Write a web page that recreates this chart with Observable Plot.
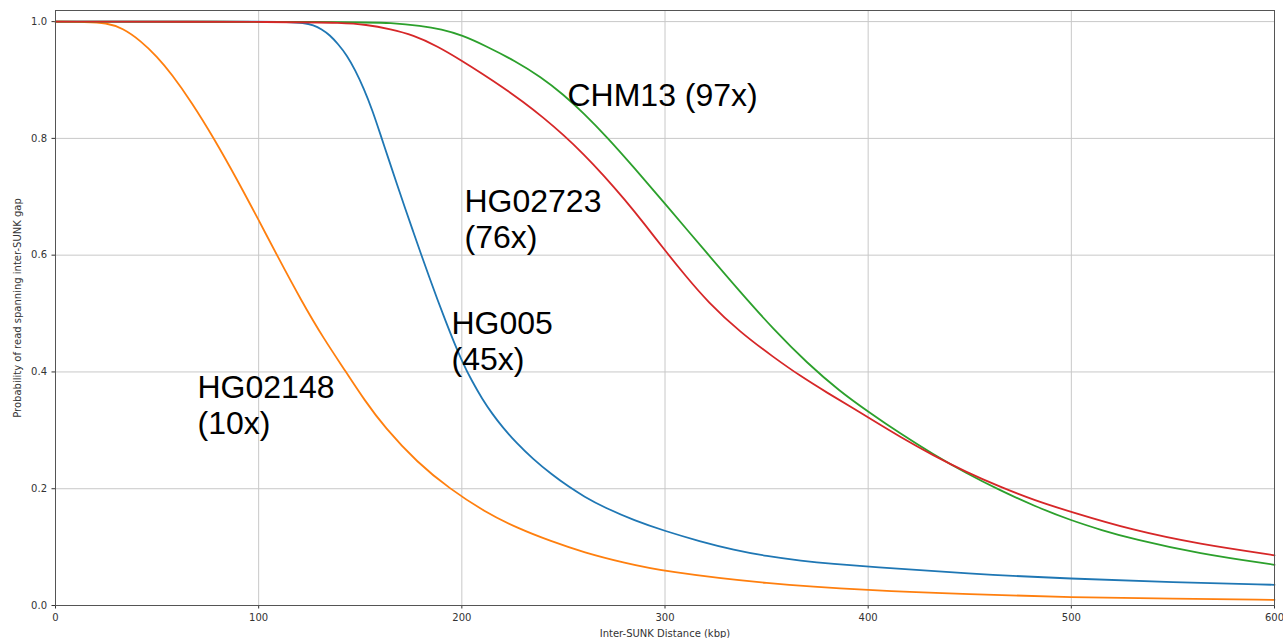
<!DOCTYPE html>
<html>
<head>
<meta charset="utf-8">
<script src="https://cdn.jsdelivr.net/npm/d3@7"></script>
<script src="https://cdn.jsdelivr.net/npm/@observablehq/plot@0.6"></script>
<style>
  html, body { margin: 0; padding: 0; background: #fff; }
  #chart svg { display: block; }
</style>
</head>
<body>
<div id="chart"></div>
<script>
// Series names and colours
const seriesNames = ["HG005", "HG02148", "CHM13", "HG02723"];
const seriesColors = ["#1f77b4", "#ff7f0e", "#2ca02c", "#d62728"];

// Values (distance in kbp, probability)
const hg005X = [0, 100, 115, 122, 127, 131, 135, 139, 143.5, 147.5, 151.7, 156, 160, 164, 168, 172, 176, 180, 184, 188, 192, 196, 200, 205, 210, 215, 220, 227, 235, 244, 253, 260, 270, 285, 300, 317, 334, 350, 367, 383, 400, 449, 500, 550, 600];
const hg005Y = [1.0, 1.0, 0.9995, 0.998, 0.994, 0.987, 0.977, 0.962, 0.942, 0.917, 0.886, 0.848, 0.806, 0.764, 0.722, 0.681, 0.641, 0.601, 0.562, 0.524, 0.487, 0.452, 0.419, 0.384, 0.354, 0.328, 0.3055, 0.278, 0.251, 0.225, 0.2024, 0.187, 0.168, 0.1455, 0.1275, 0.110, 0.095, 0.0845, 0.0765, 0.071, 0.0665, 0.0545, 0.0457, 0.040, 0.0354];

const hg02148X = [0, 15, 25, 33, 42, 50, 57, 67, 78, 89, 100, 109, 121, 132, 143, 152, 162, 178, 194, 211, 227, 244, 260, 280, 300, 350, 400, 450, 500, 550, 600];
const hg02148Y = [1.0, 0.9995, 0.998, 0.989, 0.967, 0.940, 0.911, 0.862, 0.80, 0.732, 0.66, 0.60, 0.522, 0.457, 0.40, 0.352, 0.305, 0.245, 0.20, 0.161, 0.133, 0.110, 0.091, 0.073, 0.058, 0.037, 0.026, 0.019, 0.014, 0.0115, 0.0097];

const chm13X = [0, 150, 165, 180, 190, 200, 212, 226, 239, 250, 260, 271.5, 285, 300, 321, 337, 353.5, 370, 386, 400, 416, 432, 448, 465, 482, 500, 515, 530, 563, 600];
const chm13Y = [1.0, 0.9995, 0.998, 0.993, 0.987, 0.977, 0.958, 0.933, 0.905, 0.875, 0.843, 0.802, 0.749, 0.688, 0.602, 0.537, 0.4726, 0.415, 0.367, 0.332, 0.294, 0.259, 0.227, 0.197, 0.17, 0.1455, 0.129, 0.114, 0.0885, 0.0697];

const hg02723X = [0, 120, 140, 153, 165, 176, 188, 200, 210, 220, 230, 240, 250, 260, 270, 280, 290, 300, 310, 321, 337, 353.5, 367, 380, 393, 400, 416, 432, 448, 465, 482, 500, 530, 563, 600];
const hg02723Y = [1.0, 0.9995, 0.998, 0.995, 0.987, 0.977, 0.958, 0.933, 0.911, 0.888, 0.863, 0.836, 0.806, 0.773, 0.736, 0.696, 0.653, 0.608, 0.565, 0.52, 0.468, 0.425, 0.392, 0.364, 0.337, 0.322, 0.288, 0.257, 0.229, 0.203, 0.18, 0.16, 0.129, 0.105, 0.086];

// Tick labels
const xTicks = [0, 100, 200, 300, 400, 500, 600];
const yTicks = [0.0, 0.2, 0.4, 0.6, 0.8, 1.0];

// Annotation labels (anchored at data coordinates)
const labelText = ["CHM13 (97x)", "HG02723\n(76x)", "HG005\n(45x)", "HG02148\n(10x)"];
const labelX = [252, 201.3, 194.9, 69.9];
const labelY = [0.899, 0.7175, 0.5086, 0.399];

// Build table
const seriesX = [hg005X, hg02148X, chm13X, hg02723X];
const seriesY = [hg005Y, hg02148Y, chm13Y, hg02723Y];
const rows = [];
seriesNames.forEach((name, i) => {
  seriesX[i].forEach((x, j) => rows.push({sample: name, x, y: seriesY[i][j]}));
});
const labels = labelText.map((t, i) => ({t, x: labelX[i], y: labelY[i]}));

const chart = Plot.plot({
  width: 1283,
  height: 638,
  marginLeft: 55,
  marginRight: 9,
  marginTop: 10,
  marginBottom: 33,
  style: {background: "#fff", fontFamily: "DejaVu Sans", color: "#333"},
  x: {domain: [0, 600], ticks: xTicks},
  y: {domain: [0, 1.019], ticks: yTicks},
  color: {domain: seriesNames, range: seriesColors},
  marks: [
    Plot.gridX(xTicks, {stroke: "#c8c8c8", strokeOpacity: 1, strokeWidth: 1}),
    Plot.gridY(yTicks, {stroke: "#c8c8c8", strokeOpacity: 1, strokeWidth: 1}),
    Plot.axisX(xTicks, {
      tickSize: 3.5, tickPadding: 4.5, fontSize: 10, fill: "#333", stroke: "#333",
      label: "Inter-SUNK Distance (kbp)", labelAnchor: "center", labelArrow: "none", labelOffset: 31
    }),
    Plot.axisY(yTicks, {
      tickSize: 3.5, tickPadding: 5, fontSize: 10, fill: "#333", stroke: "#333",
      tickFormat: d3.format(".1f"),
      label: "Probability of read spanning inter-SUNK gap", labelAnchor: "center", labelArrow: "none", labelOffset: 42
    }),
    Plot.line(rows, {x: "x", y: "y", z: "sample", stroke: "sample", strokeWidth: 1.8, curve: "basis"}),
    Plot.frame({stroke: "#555", strokeWidth: 1}),
    Plot.text(labels, {
      x: "x", y: "y", text: "t", textAnchor: "start", lineAnchor: "top",
      fontSize: 32, lineHeight: 1.13, fill: "#000", fontFamily: "Liberation Sans"
    })
  ]
});
document.getElementById("chart").appendChild(chart);
</script>
</body>
</html>
